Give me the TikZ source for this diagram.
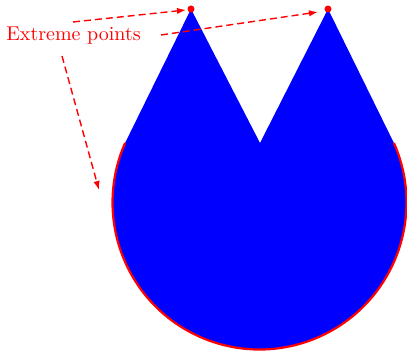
\documentclass[tikz,border=0pt]{standalone}
\usetikzlibrary{arrows.meta,calc}
\begin{document}
\begin{tikzpicture}[x=0.5pt,y=0.5pt,
  dot/.style={circle,fill=red,inner sep=0pt,minimum size=3.5pt},
  pointer/.style={red,line width=0.7pt,dash pattern=on 3.5pt off 2pt,-{Latex[length=4.5pt,width=3.2pt]}},
  lbl/.style={text=red,inner sep=0pt,font=\normalsize}]
\useasboundingbox (0,0) rectangle (407,351);
\coordinate (C) at (259.5,148.5);
\path (C) ++(156.1:147) coordinate (A);
\path (C) ++(23.9:147) coordinate (B);
\coordinate (V) at (260,208);
\coordinate (P1) at (191,342);
\coordinate (P2) at (328,342);
\fill[blue] (A) -- (P1) -- (V) -- (P2) -- (B) arc[start angle=23.9,end angle=-203.9,radius=147] -- cycle;
\draw[red,line width=1.1pt] (B) arc[start angle=23.9,end angle=-203.9,radius=147];
\node[dot] (d1) at (P1) {};
\node[dot] (d2) at (P2) {};
\node[lbl] (t) at (73.5,315.5) {Extreme points};
\coordinate (s1) at (73,329);
\coordinate (e1) at (186,341);
\coordinate (s2) at (161,316);
\coordinate (e2) at (318,339);
\coordinate (s3) at (62,295);
\coordinate (e3) at (99,161);
\draw[pointer] (s1) -- (e1);
\draw[pointer] (s2) -- (e2);
\draw[pointer] (s3) -- (e3);
\end{tikzpicture}
\end{document}
